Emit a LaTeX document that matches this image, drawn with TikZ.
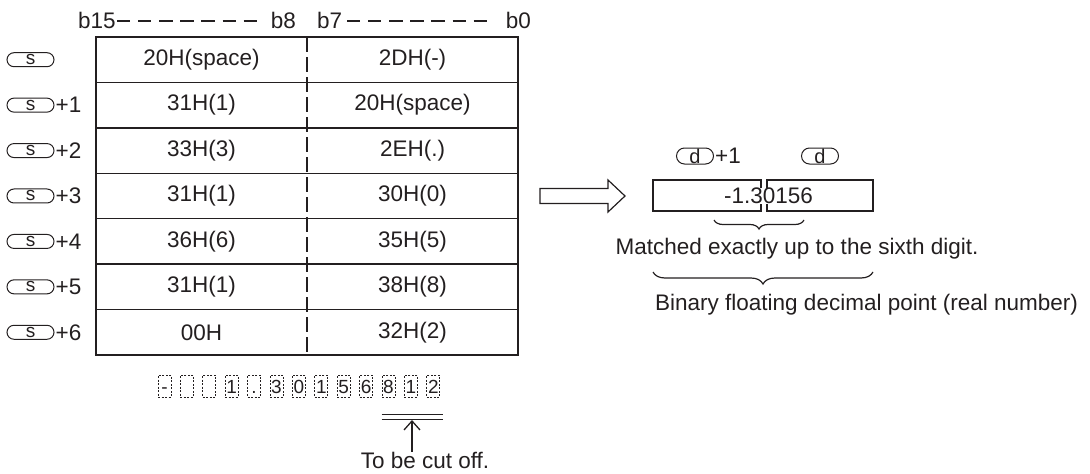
\documentclass[tikz,border=0pt]{standalone}
\usepackage{fontspec}
\setmainfont{Liberation Sans}
\usetikzlibrary{arrows.meta,decorations.pathreplacing}
\definecolor{ink}{HTML}{231F20}
\tikzset{
  txt/.style={text=ink,font=\fontsize{22.5}{24}\selectfont,inner sep=0pt},
  small/.style={text=ink,font=\fontsize{19}{20}\selectfont,inner sep=0pt},
  opnd/.style={draw=ink,line width=1pt,rounded corners=7pt,minimum width=47pt,minimum height=14pt,inner sep=0pt,text=ink,font=\fontsize{19}{14}\selectfont},
  dopnd/.style={draw=ink,line width=1pt,rounded corners=8pt,minimum width=37pt,minimum height=16pt,inner sep=0pt,text=ink,font=\fontsize{20}{16}\selectfont},
  tline/.style={line width=1.6pt,draw=ink},
  hdash/.style={line width=1.2pt,draw=ink,dash pattern=on 13.3pt off 7.8pt},
  digitbox/.style={draw=ink,line width=0.9pt,dash pattern=on 2pt off 1.5pt,minimum width=13pt,minimum height=22pt,inner sep=0pt},
  mybrace/.style={draw=ink,line width=1.2pt,decorate,decoration={brace,mirror,amplitude=#1}},
}
\begin{document}
\begin{tikzpicture}[x=1pt,y=-1pt]
\useasboundingbox (0,0) rectangle (1090,474);
% header
\node[txt,anchor=west] (b15) at (78,20) {b15};
\node[txt,anchor=east] (b8) at (296,20) {b8};
\node[txt,anchor=west] (b7) at (317,20) {b7};
\node[txt,anchor=east] (b0) at (531,20) {b0};
\coordinate (h1) at (117,21);
\coordinate (h2) at (257,21);
\coordinate (h3) at (347,21);
\coordinate (h4) at (487,21);
\draw[hdash] (h1) -- (h2);
\draw[hdash] (h3) -- (h4);
% table
\coordinate (tl) at (96,37);
\coordinate (br) at (518,355);
\draw[tline] (tl) rectangle (br);
\foreach \i in {1,...,6} {
  \draw[tline,line width=1.4pt] (96,37+45.43*\i) -- (518,37+45.43*\i);
}
\draw[line width=1.4pt,draw=ink,dash pattern=on 15pt off 5pt] (307,37) -- (307,355);
% cells
\foreach \l/\r [count=\i from 0] in {20H(space)/2DH(-),31H(1)/20H(space),33H(3)/2EH(.),31H(1)/30H(0),36H(6)/35H(5),31H(1)/38H(8),00H/32H(2)} {
  \node[txt] (L\i) at (201.5,59.7+45.43*\i) {\l};
  \node[txt] (R\i) at (412.5,59.7+45.43*\i) {\r};
  \node[opnd] (S\i) at (30.5,59.7+45.43*\i) {s};
}
\foreach \i in {1,...,6} {
  \node[txt,anchor=west] (P\i) at ([xshift=1pt]S\i.east) {+\i};
}
% block arrow
\coordinate (a0) at (540,196);
\draw[draw=ink,line width=1.2pt,line join=miter] (540,188.5) -- (608,188.5) -- (608,180) -- (625,196) coordinate (atip) -- (608,212) -- (608,203.5) -- (540,203.5) -- cycle;
% result boxes
\draw[tline] (653,180) rectangle (761,211);
\draw[tline] (767,180) rectangle (873,211);
\node[txt,fill=white,inner ysep=0pt,inner xsep=0pt] (val) at (768.5,196) {-1.30156};
\node[dopnd] (d1) at (695,156) {d};
\node[txt,anchor=west] (d1p) at ([xshift=1pt]d1.east) {+1};
\node[dopnd] (d0) at (820,156) {d};
% braces
\coordinate (br1a) at (714,220);
\coordinate (br1b) at (804,220);
\draw[mybrace=9pt] (br1a) -- (br1b);
\node[txt,fill=white,inner sep=0.5pt] (matched) at (797,249) {Matched exactly up to the sixth digit.};
\coordinate (br2a) at (653,272);
\coordinate (br2b) at (873,272);
\draw[mybrace=12pt] (br2a) -- (br2b);
\node[txt,anchor=west] (binary) at (655,305) {Binary floating decimal point (real number)};
% digit boxes
\foreach \c [count=\i from 0] in {-,{},{},1,.,3,0,1,5,6,8,1,2} {
  \node[digitbox] (D\i) at (164.5+22.4*\i,386) {};
  \node[small,anchor=base] (C\i) at (164.5+22.4*\i,393) {\c};
}
\draw[draw=ink,line width=1.4pt] ([yshift=-17pt]D10.south west) coordinate (u1) -- ([xshift=3pt,yshift=-17pt]D12.south east) coordinate (u2);
\draw[draw=ink,line width=1.4pt] ([yshift=-22pt]D10.south west) coordinate (u3) -- ([xshift=3pt,yshift=-22pt]D12.south east) coordinate (u4);
\node[txt] (cut) at (425,460) {To be cut off.};
\coordinate (arrtop) at (412,420);
\draw[draw=ink,line width=1.3pt,-{Straight Barb[length=9pt,width=16pt,line width=1.3pt]}] (cut.north -| arrtop) -- (arrtop);
\end{tikzpicture}
\end{document}
